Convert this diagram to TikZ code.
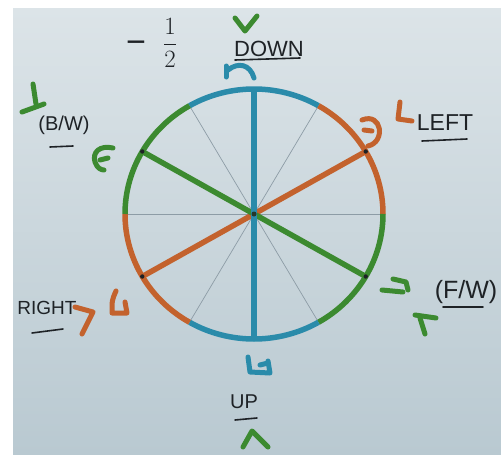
\documentclass[tikz,border=0pt]{standalone}
\usepackage{fontspec}
\setmainfont{Liberation Sans}
\usetikzlibrary{calc}
\definecolor{bgtop}{HTML}{DCE4E8}
\definecolor{bgbot}{HTML}{B9C9D1}
\definecolor{cblue}{HTML}{2A8BAA}
\definecolor{corange}{HTML}{C3622D}
\definecolor{cgreen}{HTML}{3C8A30}
\definecolor{cgrid}{HTML}{8D9CA6}
\definecolor{ink}{HTML}{1E2226}
\begin{document}
\begin{tikzpicture}[x=1pt,y=-1pt,
  arcline/.style={line width=5.5pt},
  gridline/.style={cgrid, line width=0.7pt},
  glyph/.style={line width=5pt, line cap=round, line join=round},
  txt/.style={text=ink, inner sep=0pt, anchor=center},
  uline/.style={ink, line width=1.6pt, line cap=round}]
\useasboundingbox (0,0) rectangle (501,455);
\fill[white] (0,0) rectangle (501,455);
\shade[top color=bgtop, bottom color=bgbot] (13,8) rectangle (501,455);

\coordinate (c) at (254,214);
\foreach \a in {0,30,...,330}{
  \coordinate (p\a) at ($(c)+(\a:129 and 125)$);
}

% thin grid diameters
\draw[gridline] (p0) -- (p180);
\draw[gridline] (p60) -- (p240);
\draw[gridline] (p120) -- (p300);

% coloured arcs
\draw[arcline, cblue]   (p240) arc[start angle=240, end angle=300, x radius=129, y radius=125];
\draw[arcline, corange] (p300) arc[start angle=300, end angle=360, x radius=129, y radius=125];
\draw[arcline, cgreen]  (p0)   arc[start angle=0,   end angle=60,  x radius=129, y radius=125];
\draw[arcline, cblue]   (p60)  arc[start angle=60,  end angle=120, x radius=129, y radius=125];
\draw[arcline, corange] (p120) arc[start angle=120, end angle=180, x radius=129, y radius=125];
\draw[arcline, cgreen]  (p180) arc[start angle=180, end angle=240, x radius=129, y radius=125];

% coloured diameters
\draw[arcline, corange] (p330) -- (p150);
\draw[arcline, cgreen]  (p210) -- (p30);
\draw[arcline, cblue]   (p270) -- (p90);
\foreach \p in {p330,p150,p210,p30}{\fill[ink] (\p) circle (2.2);}
\fill[ink!80!cgreen] (c) circle (2.5);

% top
\draw[glyph, cgreen] (235,18) -- (245,31) -- (257,16);
\node[txt, font=\fontsize{22}{24}\selectfont] (down) at (269,49) {DOWN};
\draw[uline] (235,60) -- (300,58);
\draw[glyph, cblue] (226,77) -- (226,66);
\draw[glyph, cblue] (228,70) .. controls (238,62) and (250,64) .. (254,78);
\node[txt, font=\fontsize{34}{36}\selectfont] (minus) at (136,47) {−};
\node[txt, font=\fontsize{26}{28}\selectfont] (half) at (170,43) {$\displaystyle\frac{1}{2}$};

% left (B/W)
\draw[glyph, cgreen] (33,84) -- (36,104);
\draw[glyph, cgreen] (22,112) -- (44,104);
\node[txt, font=\fontsize{20}{22}\selectfont] (bw) at (64,125) {(B/W)};
\draw[uline] (50,147) -- (73,146);
\draw[glyph, cgreen] (113,148) .. controls (100,145) and (92,152) .. (95,162) .. controls (97,168) and (101,170) .. (104,170);
\draw[glyph, cgreen] (100,160) -- (108,158);

% right LEFT
\draw[glyph, corange] (362,120) .. controls (382,112) and (386,142) .. (368,146);
\draw[glyph, corange] (364,130) -- (372,131);
\draw[glyph, corange] (400,102) -- (398,119) -- (412,121);
\node[txt, font=\fontsize{23}{25}\selectfont] (left) at (445,123) {LEFT};
\draw[uline] (422,141) -- (467,139);

% right (F/W)
\draw[glyph, cgreen] (393,279) -- (406,282) -- (408,290);
\draw[glyph, cgreen] (382,290) -- (403,292);
\draw[glyph, cgreen] (415,315) -- (436,318);
\draw[glyph, cgreen] (420,318) -- (425,334);
\node[txt, font=\fontsize{25}{27}\selectfont] (fw) at (466,292) {(F/W)};
\draw[uline] (443,307) -- (483,307);

% left RIGHT
\node[txt, font=\fontsize{19}{21}\selectfont] (right) at (47,308) {RIGHT};
\draw[uline] (32,333) -- (63,329);
\draw[glyph, corange] (75,307) -- (93,312) -- (82,334);
\draw[glyph, corange] (116,291) .. controls (112,300) .. (112,313) -- (127,313) -- (125,302);

% bottom UP
\draw[glyph, cblue] (248,357) -- (250,372) -- (270,373) -- (268,361);
\draw[glyph, cblue] (260,365) -- (268,363);
\node[txt, font=\fontsize{20}{22}\selectfont] (up) at (244,402) {UP};
\draw[uline] (235,420) -- (257,418);
\draw[glyph, cgreen] (243,447) -- (252,431) -- (268,447);
\end{tikzpicture}
\end{document}
